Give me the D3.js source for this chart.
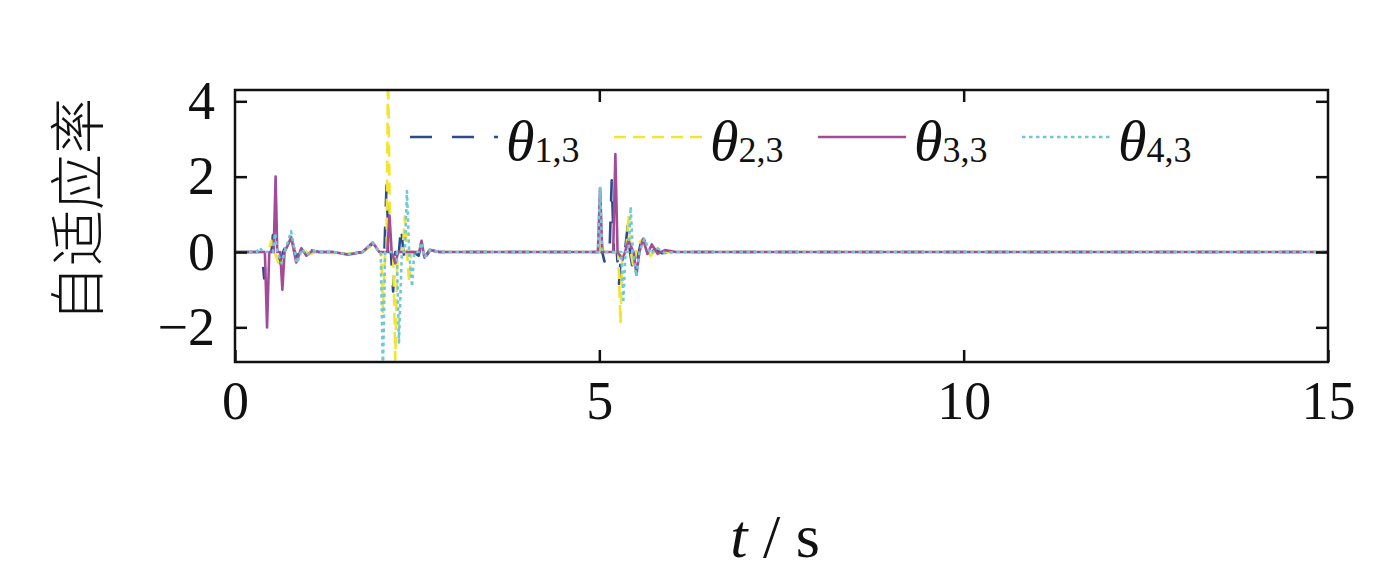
<!DOCTYPE html>
<html><head><meta charset="utf-8">
<script src="https://cdn.jsdelivr.net/npm/d3@7"></script>
<style>body{margin:0;background:#fff}svg{display:block}</style>
</head><body><svg id="c" width="1393" height="586"></svg>
<script>
const xTicks = [0, 5, 10, 15];
const yTicks = [-2, 0, 2, 4];
const seriesNames = ["1,3", "2,3", "3,3", "4,3"];

const t1 = [0,0.37,0.40,0.43,0.50,0.52,0.54,0.62,0.66,0.72,0.77,0.84,0.90,0.97,1.05,1.15,1.35,1.55,1.75,1.89,1.98,2.05,2.08,2.11,2.14,2.17,2.20,2.25,2.28,2.31,2.35,2.38,2.45,2.52,2.56,2.61,2.68,2.80,4.98,5.04,5.07,5.10,5.14,5.17,5.20,5.24,5.27,5.30,5.35,5.39,5.42,5.45,5.48,5.52,5.57,5.62,5.68,5.76,5.86,5.98,6.15,15];
const v1 = [0,0,-0.7,0,0,0.45,0,-0.3,0,0.25,0.45,-0.15,0.08,-0.08,0.04,0,0,-0.06,0,0.22,0,0,1.8,0,0,-1.05,0,0,0.7,0,-0.3,0,0,-0.1,0.25,-0.15,0.05,0,0,0,-0.25,0,0,1.9,0,0,-0.85,0,0,0.7,0,-0.35,0,-0.2,0.25,0.3,-0.1,0.08,-0.03,0.02,0,0];

const t2 = [0,0.45,0.50,0.54,0.64,0.68,0.77,0.85,0.93,1.02,1.12,1.55,1.75,1.89,1.98,2.01,2.03,2.06,2.08,2.10,2.13,2.17,2.20,2.23,2.30,2.33,2.36,2.39,2.42,2.50,2.55,2.60,2.68,2.80,5.00,5.03,5.06,5.26,5.29,5.32,5.37,5.40,5.43,5.47,5.50,5.57,5.63,5.70,5.78,5.90,15];
const v2 = [0,0,0.3,0,-0.5,0,0.4,-0.2,0.1,-0.06,0,-0.05,0,0.2,0,0,-1.6,0,0,5.0,0,0,-2.85,0,0,0.95,0,-0.8,0,0,0.25,-0.1,0.05,0,0,0.3,0,0,-1.9,0,0,1.0,0,-0.4,0,0.3,0.25,-0.1,0.06,0,0];

const t3 = [0,0.41,0.44,0.47,0.53,0.557,0.58,0.62,0.65,0.68,0.73,0.77,0.84,0.91,0.98,1.06,1.15,1.35,1.55,1.75,1.89,1.98,2.09,2.12,2.15,2.20,2.24,2.53,2.56,2.60,2.67,2.80,4.98,5.01,5.04,5.19,5.22,5.25,5.32,5.40,5.47,5.51,5.55,5.60,5.66,5.72,5.80,5.90,6.05,15];
const v3 = [0,0,-2.0,0,0,2.0,0,0,-1.0,0,0.2,0.4,-0.28,0.1,-0.1,0.03,0,0,-0.07,0,0.25,0,0,0.97,0,-0.3,0,0,0.3,-0.15,0.06,0,0,1.7,0,0,2.6,0,-0.2,0.3,0,-0.6,0,0.35,-0.05,0.2,-0.05,0.05,0,0];

const t4 = [0,0.30,0.34,0.38,0.52,0.55,0.58,0.64,0.68,0.73,0.77,0.85,0.92,0.99,1.07,1.15,1.35,1.55,1.75,1.89,1.98,2.00,2.03,2.06,2.22,2.25,2.29,2.33,2.36,2.39,2.43,2.46,2.52,2.56,2.60,2.67,2.80,4.98,5.01,5.04,5.30,5.33,5.36,5.40,5.43,5.46,5.51,5.55,5.62,5.70,5.80,5.90,6.05,15];
const v4 = [0,0,0.12,0,0,0.5,0,-0.3,0,0.3,0.55,-0.3,0.08,-0.08,0.03,0,0,-0.06,0,0.25,0,0,-3.2,0,0,-2.4,0,0,1.62,0,-0.92,0,0,0.25,-0.15,0.05,0,0,1.7,0,0,-1.27,0,0,1.2,0,-0.65,0,0.35,-0.05,0.1,-0.03,0,0];

const times = [t1, t2, t3, t4];
const values = [v1, v2, v3, v4];
const colors = ["#2b4a8e", "#f2e531", "#a44b98", "#6fc8d6"];
const dashes = ["22,20", "12,7", null, "3.5,3.5"];

const L = 235, R = 1328, T = 90, B = 362;
const svg = d3.select("#c");
const x = d3.scaleLinear().domain([0, 15]).range([L, R]);
const y = d3.scaleLinear().domain([-2.92, 4.3]).range([B, T]);

svg.append("defs").append("clipPath").attr("id", "clip")
  .append("rect").attr("x", L).attr("y", T).attr("width", R - L).attr("height", B - T);

const line = d3.line().x(d => x(d[0])).y(d => y(d[1]));
const g = svg.append("g").attr("clip-path", "url(#clip)");
for (let i = 0; i < 4; i++) {
  const pts = times[i].map((t, j) => [t, values[i][j]]);
  g.append("path").datum(pts).attr("d", line)
    .attr("fill", "none").attr("stroke", colors[i]).attr("stroke-width", 2.6)
    .attr("stroke-dasharray", dashes[i]).attr("stroke-linejoin", "round");
}

const fontNum = "'Liberation Serif','Times New Roman',serif";
function styleAxis(sel, showText) {
  sel.select(".domain").remove();
  sel.selectAll(".tick line").attr("stroke", "#111").attr("stroke-width", 2.5);
  sel.selectAll(".tick text").attr("font-family", fontNum).attr("font-size", 54).attr("fill", "#111");
  if (!showText) sel.selectAll(".tick text").remove();
}
svg.append("g").attr("transform", `translate(0,${B})`)
  .call(d3.axisBottom(x).tickValues(xTicks).tickSizeInner(-12).tickSizeOuter(0).tickPadding(19).tickFormat(d3.format("d")))
  .call(s => styleAxis(s, true));
svg.append("g").attr("transform", `translate(0,${T})`)
  .call(d3.axisTop(x).tickValues([5, 10]).tickSizeInner(-12).tickSizeOuter(0))
  .call(s => styleAxis(s, false));
svg.append("g").attr("transform", `translate(${L},0)`)
  .call(d3.axisLeft(y).tickValues(yTicks).tickSizeInner(-12).tickSizeOuter(0).tickPadding(20).tickFormat(d3.format("d")))
  .call(s => styleAxis(s, true));
svg.append("g").attr("transform", `translate(${R},0)`)
  .call(d3.axisRight(y).tickValues(yTicks).tickSizeInner(-12).tickSizeOuter(0))
  .call(s => styleAxis(s, false));

svg.append("rect").attr("x", L).attr("y", T).attr("width", R - L).attr("height", B - T)
  .attr("fill", "none").attr("stroke", "#111").attr("stroke-width", 2.5);

// legend
const lg = svg.append("g");
seriesNames.forEach((name, i) => {
  const x0 = 410 + i * 204;
  lg.append("line").attr("x1", x0).attr("x2", x0 + 88).attr("y1", 137).attr("y2", 137)
    .attr("stroke", colors[i]).attr("stroke-width", 2.6).attr("stroke-dasharray", dashes[i]);
  const tx = lg.append("text").attr("x", x0 + 96).attr("y", 160)
    .attr("font-family", fontNum).attr("font-size", 58).attr("fill", "#111");
  tx.append("tspan").attr("font-style", "italic").text("θ");
  tx.append("tspan").attr("font-size", 36).attr("dy", 2).text(name);
});

// axis titles
const xt = svg.append("text").attr("x", 775).attr("y", 557).attr("text-anchor", "middle")
  .attr("font-family", fontNum).attr("font-size", 62).attr("fill", "#111");
xt.append("tspan").attr("font-style", "italic").text("t");
xt.append("tspan").text(" / s");

svg.append("text").attr("transform", "translate(98,210) rotate(-90)").attr("text-anchor", "middle")
  .attr("font-family", "'Noto Sans CJK SC',sans-serif").attr("font-size", 56).attr("font-weight", 300)
  .attr("fill", "#111").text("自适应率");
</script></body></html>
